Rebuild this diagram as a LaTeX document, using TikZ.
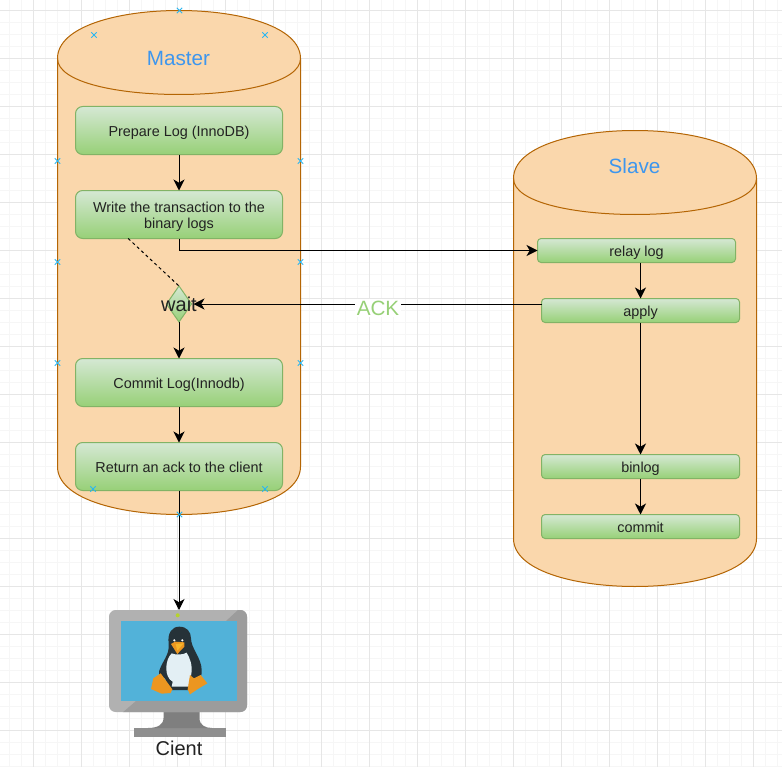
\documentclass[tikz,border=0pt]{standalone}
\usepackage{fontspec}
\setmainfont{Liberation Sans}
\usetikzlibrary{arrows.meta,shapes.geometric,shapes.misc}
\definecolor{cylfill}{HTML}{FAD7AC}
\definecolor{cylline}{HTML}{B46504}
\definecolor{boxtop}{HTML}{D5E8D4}
\definecolor{boxbot}{HTML}{97D077}
\definecolor{boxline}{HTML}{82B366}
\definecolor{txtdark}{HTML}{222222}
\definecolor{titleblue}{HTML}{3D96EE}
\definecolor{markblue}{HTML}{29B6F2}
\definecolor{gridmaj}{HTML}{E6E6E6}
\definecolor{gridmin}{HTML}{F6F6F6}
\definecolor{monlight}{HTML}{B1B1B1}
\definecolor{mondark}{HTML}{9C9C9C}
\definecolor{monneck}{HTML}{7F7F7F}
\definecolor{monbase}{HTML}{8F8F8F}
\definecolor{monscreen}{HTML}{52B2D9}
\definecolor{monled}{HTML}{B5D32C}
\definecolor{pengdark}{HTML}{263238}
\definecolor{pengbelly}{HTML}{E3EFF4}
\definecolor{pengorange}{HTML}{EC9620}
\definecolor{pengbeak}{HTML}{F7B62B}
\tikzset{
  base/.style={line width=0.75pt,draw=boxline,top color=boxtop,bottom color=boxbot,text=txtdark,outer sep=0pt,inner sep=0pt,font=\fontsize{10.8}{12}\selectfont},
  bigshape/.style={base,rectangle,rounded corners=5.4pt,minimum width=155.25pt,minimum height=36pt},
  bigbox/.style={bigshape,text height=9.5pt,text depth=0pt},
  thinbox/.style={base,rectangle,rounded corners=2.7pt,minimum width=148.5pt,minimum height=18pt,text height=9.5pt,text depth=0pt},
  cyl/.style={line width=0.75pt,draw=cylline,fill=cylfill},
  conn/.style={line width=0.75pt,draw=black,-{Stealth[length=8.25pt,width=8.25pt,inset=2.4pt]}},
  plainconn/.style={line width=0.75pt,draw=black},
  xmark/.style={cross out,draw=markblue,line width=0.75pt,minimum size=4pt,inner sep=0pt,outer sep=0pt},
  bigtext/.style={font=\fontsize{15}{18}\selectfont,inner sep=0pt},
  titletext/.style={font=\fontsize{15.5}{18}\selectfont,inner sep=0pt},
}
\begin{document}
\begin{tikzpicture}[x=0.75pt,y=-0.75pt]
\useasboundingbox (0,0) rectangle (782,767);
\fill[white] (0,0) rectangle (782,767);
% grid
\foreach \v in {9.5,21.5,...,781} \draw[gridmin,line width=0.75pt] (\v,0) -- (\v,767);
\foreach \v in {10.5,22.5,...,767} \draw[gridmin,line width=0.75pt] (0,\v) -- (782,\v);
\foreach \v in {33.5,81.5,...,781} \draw[gridmaj,line width=0.75pt] (\v,0) -- (\v,767);
\foreach \v in {10.5,58.5,...,767} \draw[gridmaj,line width=0.75pt] (0,\v) -- (782,\v);
% master cylinder
\draw[cyl] (57.5,58.5) .. controls (57.5,-5.5) and (300.5,-5.5) .. (300.5,58.5)
  -- (300.5,466.5) .. controls (300.5,530.5) and (57.5,530.5) .. (57.5,466.5) -- cycle;
\draw[cyl,fill=none] (57.5,58.5) .. controls (57.5,106.5) and (300.5,106.5) .. (300.5,58.5);
% slave cylinder
\draw[cyl] (513.5,178.5) .. controls (513.5,114.5) and (756.5,114.5) .. (756.5,178.5)
  -- (756.5,538.5) .. controls (756.5,602.5) and (513.5,602.5) .. (513.5,538.5) -- cycle;
\draw[cyl,fill=none] (513.5,178.5) .. controls (513.5,226.5) and (756.5,226.5) .. (756.5,178.5);
\node[titletext,text=titleblue] (mastertitle) at (178.5,58) {Master};
\node[titletext,text=titleblue] (slavetitle) at (634.5,166) {Slave};
% master steps
\node[bigbox] (prepare) at (179,130.5) {Prepare Log (InnoDB)};
\node[bigshape,align=center] (write) at (179,214.5) {\rule{0pt}{10.7pt}Write the transaction to the\\binary logs};
\node[base,diamond,minimum width=18.75pt,minimum height=27pt,
  label={[bigtext,text=txtdark]center:wait}] (wait) at (179,304) {};
\node[bigbox] (commitlog) at (179,382.5) {Commit Log(Innodb)};
\node[bigbox] (ret) at (179,466.5) {Return an ack to the client};
% slave steps
\node[thinbox] (relay) at (636.5,250.5) {relay log};
\node[thinbox] (apply) at (640.5,310.5) {apply};
\node[thinbox] (binlog) at (640.5,466.5) {binlog};
\node[thinbox] (commit) at (640.5,526.5) {commit};
% client monitor
\fill[monbase] (134,728) rectangle (225.5,737);
\fill[monneck] (163.5,712) -- (199.5,712) -- (199.5,718) .. controls (199.5,725) and (205,728) .. (212,728)
  -- (148,728) .. controls (157,728) and (163.5,725) .. (163.5,718) -- cycle;
\node[rectangle,rounded corners=5pt,fill=monlight,minimum width=103.5pt,minimum height=76.5pt,inner sep=0pt,outer sep=0pt] (client) at (178,661) {};
\begin{scope}
  \clip[rounded corners=5pt] (client.south west) rectangle (client.north east);
  \fill[mondark] (238,610) -- (248,610) -- (248,713) -- (122,713) -- (136,701) -- (226,621) -- cycle;
\end{scope}
\fill[monscreen] (120.5,621) rectangle (236.5,701);
\fill[monled] (177.7,615.3) circle (1.5pt);
% penguin
\begin{scope}[shift={(90,590)},x=0.25pt,y=-0.25pt]
  \fill[pengdark] (268,110) .. controls (290,110) and (303,125) .. (303,145)
    .. controls (303,175) and (335,205) .. (335,240) .. controls (336,260) and (330,270) .. (318,268)
    -- (305,300) -- (240,300) -- (225,265) .. controls (215,262) and (205,255) .. (207,245)
    .. controls (215,215) and (240,195) .. (236,160) .. controls (232,130) and (245,110) .. (268,110) -- cycle;
  \fill[pengbelly] (245,190) .. controls (255,195) and (280,195) .. (290,188)
    .. controls (300,205) and (308,225) .. (304,252) -- (297,290) -- (245,290) -- (248,275)
    .. controls (222,262) and (224,210) .. (245,190) -- cycle;
  \fill[pengorange] (243,162) -- (255,155) -- (283,157) -- (283,170) -- (262,192) -- cycle;
  \fill[pengbeak] (257,162) -- (281,160) -- (262,182) -- cycle;
  \fill[white] (253,151) circle (0.9pt);
  \fill[white] (277,151) circle (0.9pt);
  \fill[pengorange] (212,250) -- (228,272) -- (247,298) -- (242,309) -- (215,311)
    -- (183,297) -- (190,265) -- cycle;
  \fill[pengorange] (300,255) -- (312,265) -- (332,255) -- (352,280) -- (322,298)
    -- (300,313) -- (293,298) -- cycle;
\end{scope}
\node[bigtext,text=txtdark] (clientlabel) at (179,748) {Cient};
% connectors
\draw[conn] (prepare) -- (write);
\draw[conn] (write.south) |- (relay.west);
\coordinate (dashstart) at ([xshift=39.5pt]write.south west);
\draw[plainconn,dash pattern=on 2.25pt off 2.25pt] (dashstart) -- (wait.north);
\draw[conn] (wait) -- (commitlog);
\draw[conn] (commitlog) -- (ret);
\draw[conn] (ret) -- (client.north -| ret);
\draw[conn] (relay.south -| apply) -- (apply.north);
\draw[conn,shorten >=1.5pt] (apply.west |- wait.east) -- (wait.east);
\draw[conn] (apply) -- (binlog);
\draw[conn] (binlog) -- (commit);
\node[titletext,text=boxbot,fill=white,inner sep=1pt] (ack) at (378,308) {ACK};
% handle markers
\foreach \n/\a/\b in {1/94/35,2/265/35,3/179.5/10.5,4/57.5/161,5/300.5/161,6/57.5/262,7/300.5/262,8/57.5/363,9/300.5/363,10/93/489,11/265/489,12/179.5/514.5}
  \node[xmark] (mk\n) at (\a,\b) {};
\end{tikzpicture}
\end{document}
